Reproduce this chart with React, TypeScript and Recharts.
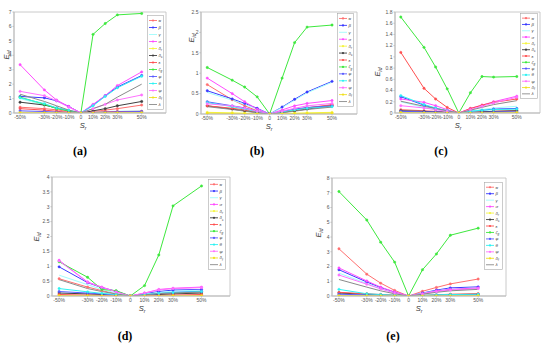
import { LineChart, Line, XAxis, YAxis, ReferenceArea, Legend } from 'recharts';

// S_r steps shared by every panel
const SR = [-50, -30, -20, -10, 0, 10, 20, 30, 50];
const X_TICKS = [-50, -30, -20, -10, 0, 10, 20, 30, 50];

// legend order: α β γ σ δr δc ε ζg φ θ ψ δf λ
const SERIES_KEYS = ['alpha', 'beta', 'gamma', 'sigma', 'deltaR', 'deltaC', 'eps', 'zeta', 'phi', 'theta', 'psi', 'deltaF', 'lambda'];
const SERIES_NAMES = ['α', 'β', 'γ', 'σ', 'δ', 'δ', 'ε', 'ζ', 'φ', 'θ', 'ψ', 'δ', 'λ'];
const SERIES_SUBS = ['', '', '', '', 'r', 'c', '', 'g', '', '', '', 'f', ''];
const SERIES_COLORS = ['#ff6f6f', '#3a3aff', '#9ffcfc', '#ff4cff', '#f5f542', '#404040', '#ff5050', '#3ee83e', '#5a5aff', '#2ef2f2', '#ff72ff', '#f0e020', '#8a8a8a'];
const SERIES_MARKERS = [true, true, false, true, true, true, true, true, true, true, true, true, false];

// (a)
const A_Y_TICKS = [0, 1, 2, 3, 4, 5, 6, 7];
const A_VALUES = [
  [0.4, 0.3, 0.22, 0.1, 0, 0.1, 0.2, 0.3, 0.55],
  [1.15, 1.05, 0.85, 0.45, 0, 0.55, 1.2, 1.8, 2.6],
  [1.0, 0.55, 0.35, 0.15, 0, 0.05, 0.1, 0.12, 0.15],
  [3.35, 1.6, 0.9, 0.45, 0, 0.6, 1.2, 1.9, 2.85],
  [0.05, 0.03, 0.02, 0.01, 0, 0.01, 0.02, 0.03, 0.05],
  [0.75, 0.55, 0.35, 0.15, 0, 0.15, 0.3, 0.5, 0.8],
  [0.3, 0.2, 0.12, 0.05, 0, 0.05, 0.08, 0.1, 0.12],
  [1.1, 0.6, 0.3, 0.15, 0, 5.45, 6.2, 6.8, 6.9],
  [0.15, 0.1, 0.06, 0.03, 0, 0.03, 0.05, 0.08, 0.1],
  [1.05, 0.65, 0.35, 0.2, 0, 0.5, 1.15, 1.75, 2.55],
  [1.5, 1.2, 0.85, 0.4, 0, 0.3, 0.6, 0.9, 1.25],
  [0.02, 0.01, 0.01, 0.0, 0, 0.0, 0.01, 0.01, 0.02],
  [1.3, 0.8, 0.5, 0.2, 0, 0.3, 0.6, 1.1, 2.0],
];

// (b)
const B_Y_TICKS = [0, 0.5, 1, 1.5, 2, 2.5];
const B_VALUES = [
  [0.72, 0.35, 0.2, 0.08, 0, 0.05, 0.1, 0.15, 0.23],
  [0.57, 0.37, 0.26, 0.14, 0, 0.17, 0.36, 0.54, 0.8],
  [0.53, 0.34, 0.24, 0.12, 0, 0.16, 0.34, 0.52, 0.78],
  [0.88, 0.5, 0.3, 0.12, 0, 0.1, 0.2, 0.26, 0.33],
  [0.04, 0.03, 0.02, 0.01, 0, 0.01, 0.02, 0.03, 0.04],
  [0.2, 0.12, 0.08, 0.04, 0, 0.04, 0.08, 0.12, 0.2],
  [0.2, 0.14, 0.1, 0.05, 0, 0.05, 0.1, 0.15, 0.22],
  [1.14, 0.83, 0.66, 0.42, 0, 0.88, 1.75, 2.13, 2.18],
  [0.3, 0.2, 0.15, 0.07, 0, 0.06, 0.12, 0.16, 0.2],
  [0.28, 0.18, 0.12, 0.06, 0, 0.05, 0.1, 0.14, 0.18],
  [0.25, 0.2, 0.14, 0.07, 0, 0.07, 0.14, 0.2, 0.26],
  [0.02, 0.01, 0.01, 0.0, 0, 0.0, 0.01, 0.01, 0.02],
  [0.18, 0.11, 0.07, 0.03, 0, 0.03, 0.07, 0.11, 0.17],
];

// (c)
const C_Y_TICKS = [0, 0.2, 0.4, 0.6, 0.8, 1, 1.2, 1.4, 1.6, 1.8];
const C_VALUES = [
  [0.06, 0.04, 0.03, 0.02, 0, 0.01, 0.02, 0.03, 0.04],
  [0.29, 0.14, 0.08, 0.04, 0, 0.03, 0.05, 0.07, 0.08],
  [0.2, 0.1, 0.06, 0.03, 0, 0.03, 0.06, 0.09, 0.12],
  [0.25, 0.19, 0.13, 0.06, 0, 0.08, 0.14, 0.2, 0.3],
  [0.01, 0.01, 0.0, 0.0, 0, 0.0, 0.0, 0.01, 0.01],
  [0.04, 0.03, 0.02, 0.01, 0, 0.01, 0.02, 0.03, 0.04],
  [1.08, 0.44, 0.25, 0.1, 0, 0.08, 0.14, 0.19, 0.25],
  [1.71, 1.17, 0.82, 0.43, 0, 0.36, 0.65, 0.64, 0.65],
  [0.03, 0.02, 0.02, 0.01, 0, 0.01, 0.01, 0.02, 0.02],
  [0.31, 0.15, 0.09, 0.04, 0, 0.03, 0.05, 0.06, 0.07],
  [0.13, 0.09, 0.06, 0.03, 0, 0.06, 0.12, 0.18, 0.28],
  [0.01, 0.0, 0.0, 0.0, 0, 0.0, 0.0, 0.0, 0.01],
  [0.21, 0.12, 0.08, 0.04, 0, 0.05, 0.1, 0.15, 0.22],
];

// (d)
const D_Y_TICKS = [0, 0.5, 1, 1.5, 2, 2.5, 3, 3.5, 4];
const D_VALUES = [
  [0.58, 0.3, 0.18, 0.08, 0, 0.04, 0.08, 0.1, 0.14],
  [0.98, 0.45, 0.28, 0.16, 0, 0.08, 0.15, 0.2, 0.22],
  [0.7, 0.38, 0.22, 0.1, 0, 0.06, 0.12, 0.16, 0.2],
  [1.2, 0.47, 0.3, 0.15, 0, 0.1, 0.22, 0.26, 0.3],
  [0.02, 0.01, 0.01, 0.0, 0, 0.0, 0.01, 0.01, 0.02],
  [0.1, 0.07, 0.05, 0.03, 0, 0.03, 0.05, 0.07, 0.1],
  [0.05, 0.03, 0.02, 0.01, 0, 0.01, 0.02, 0.03, 0.05],
  [1.15, 0.63, 0.22, 0.18, 0, 0.35, 1.38, 3.03, 3.7],
  [0.15, 0.1, 0.07, 0.03, 0, 0.04, 0.08, 0.12, 0.16],
  [0.25, 0.14, 0.09, 0.05, 0, 0.05, 0.09, 0.12, 0.15],
  [1.18, 0.46, 0.29, 0.14, 0, 0.1, 0.2, 0.25, 0.28],
  [0.01, 0.01, 0.0, 0.0, 0, 0.0, 0.0, 0.01, 0.01],
  [0.55, 0.25, 0.15, 0.07, 0, 0.04, 0.08, 0.1, 0.13],
];

// (e)
const E_Y_TICKS = [0, 1, 2, 3, 4, 5, 6, 7, 8];
const E_VALUES = [
  [3.2, 1.48, 0.87, 0.38, 0, 0.32, 0.58, 0.82, 1.15],
  [1.78, 0.95, 0.57, 0.25, 0, 0.2, 0.4, 0.55, 0.62],
  [1.55, 0.85, 0.5, 0.22, 0, 0.18, 0.35, 0.48, 0.55],
  [1.9, 1.02, 0.6, 0.28, 0, 0.15, 0.35, 0.45, 0.55],
  [0.05, 0.03, 0.02, 0.01, 0, 0.01, 0.02, 0.03, 0.05],
  [0.2, 0.12, 0.08, 0.04, 0, 0.03, 0.06, 0.09, 0.12],
  [0.25, 0.15, 0.1, 0.05, 0, 0.04, 0.08, 0.12, 0.16],
  [7.08, 5.15, 3.65, 2.3, 0, 1.78, 2.85, 4.12, 4.6],
  [0.12, 0.07, 0.05, 0.02, 0, 0.02, 0.04, 0.06, 0.08],
  [0.45, 0.15, 0.1, 0.05, 0, 0.04, 0.08, 0.1, 0.12],
  [1.42, 0.8, 0.48, 0.2, 0, 0.14, 0.3, 0.4, 0.5],
  [0.02, 0.01, 0.01, 0.0, 0, 0.0, 0.01, 0.01, 0.02],
  [1.12, 0.6, 0.35, 0.15, 0, 0.12, 0.25, 0.35, 0.45],
];

const X_DOMAIN = [-55, 70];
const AXIS_COLOR = '#bdbdbd';
const TICK_COLOR = '#555';
const SANS = '"Liberation Sans", Arial, sans-serif';

function buildRows(values: number[][]) {
  return SR.map((s, i) => {
    const row: Record<string, number> = { s };
    SERIES_KEYS.forEach((k, j) => {
      row[k] = values[j][i];
    });
    return row;
  });
}

const fmtX = (v: number) => (v === 0 ? '0' : `${v}%`);

function LegendBox({ w, h }: { w: number; h: number }) {
  const step = (h - 4) / SERIES_KEYS.length;
  return (
    <svg width={w} height={h} style={{ display: 'block' }}>
      <rect x={0.5} y={0.5} width={w - 1} height={h - 1} fill="#fff" stroke="#a8a8a8" strokeWidth={0.6} />
      {SERIES_KEYS.map((k, i) => {
        const cy = 2 + step * (i + 0.5);
        return (
          <g key={k}>
            <line x1={2} x2={10} y1={cy} y2={cy} stroke={SERIES_COLORS[i]} strokeWidth={0.9} />
            {SERIES_MARKERS[i] && <circle cx={6} cy={cy} r={1.1} fill={SERIES_COLORS[i]} />}
            <text x={11.5} y={cy + 1.5} fontSize={4.4} fill="#444" fontFamily={SANS} fontStyle="italic">
              {SERIES_NAMES[i]}
              {SERIES_SUBS[i] && (
                <tspan dy={1.2} fontSize={3}>
                  {SERIES_SUBS[i]}
                </tspan>
              )}
            </text>
          </g>
        );
      })}
    </svg>
  );
}

interface Box {
  x: number;
  y: number;
  w: number;
  h: number;
}

interface PanelProps {
  plot: Box;
  legend: Box;
  values: number[][];
  yTicks: number[];
  yLabel: [number, number];
  xLabel: [number, number];
  caption: string;
  capPos: [number, number];
}

function Panel({ plot, legend, values, yTicks, yLabel, xLabel, caption, capPos }: PanelProps) {
  const data = buildRows(values);
  const yMax = yTicks[yTicks.length - 1];
  const left = plot.x - 24;
  const top = plot.y - 4;
  return (
    <>
      <div style={{ position: 'absolute', left, top }}>
        <LineChart
          width={plot.w + 28}
          height={plot.h + 26}
          data={data}
          margin={{ top: 4, right: 4, left: 0, bottom: 10 }}
        >
          <XAxis
            dataKey="s"
            type="number"
            domain={X_DOMAIN}
            ticks={X_TICKS}
            tickFormatter={fmtX}
            allowDataOverflow
            height={12}
            interval={0}
            stroke={AXIS_COLOR}
            tickSize={1.5}
            tickMargin={0.5}
            tick={{ fontSize: 5, fill: TICK_COLOR, fontFamily: SANS }}
          />
          <YAxis
            type="number"
            domain={[0, yMax]}
            ticks={yTicks}
            allowDataOverflow
            width={24}
            interval={0}
            stroke={AXIS_COLOR}
            tickSize={1.5}
            tickMargin={1}
            tick={{ fontSize: 5, fill: TICK_COLOR, fontFamily: SANS }}
          />
          <ReferenceArea
            x1={X_DOMAIN[0]}
            x2={X_DOMAIN[1]}
            y1={0}
            y2={yMax}
            fill="none"
            stroke={AXIS_COLOR}
            strokeWidth={0.8}
          />
          {SERIES_KEYS.map((k, i) => (
            <Line
              key={k}
              dataKey={k}
              type="linear"
              stroke={SERIES_COLORS[i]}
              strokeWidth={1}
              dot={SERIES_MARKERS[i] ? { r: 1.2, fill: SERIES_COLORS[i], stroke: SERIES_COLORS[i], strokeWidth: 0.4 } : false}
              activeDot={false}
              isAnimationActive={false}
            />
          ))}
          <Legend
            layout="vertical"
            align="center"
            verticalAlign="middle"
            wrapperStyle={{ left: legend.x - left, top: legend.y - top, width: legend.w, height: legend.h }}
            content={() => <LegendBox w={legend.w} h={legend.h} />}
          />
        </LineChart>
      </div>
      <div
        style={{
          position: 'absolute',
          left: yLabel[0],
          top: yLabel[1],
          transform: 'translate(-50%, -50%) rotate(-90deg)',
          fontFamily: SANS,
          fontStyle: 'italic',
          fontSize: 7.5,
          color: '#333',
          whiteSpace: 'nowrap',
        }}
      >
        E<sub style={{ fontSize: 5 }}>id</sub>
      </div>
      <div
        style={{
          position: 'absolute',
          left: xLabel[0],
          top: xLabel[1],
          transform: 'translate(-50%, -50%)',
          fontFamily: SANS,
          fontStyle: 'italic',
          fontSize: 7.5,
          color: '#333',
          whiteSpace: 'nowrap',
        }}
      >
        S<sub style={{ fontSize: 5 }}>r</sub>
      </div>
      <div
        style={{
          position: 'absolute',
          left: capPos[0],
          top: capPos[1],
          transform: 'translate(-50%, -50%)',
          fontFamily: '"Liberation Serif", "Times New Roman", serif',
          fontWeight: 'bold',
          fontSize: 12,
          color: '#000',
        }}
      >
        {caption}
      </div>
    </>
  );
}

export default function App() {
  return (
    <div style={{ position: 'absolute', left: 0, top: 0, width: 550, height: 348, background: '#fff', overflow: 'hidden' }}>
      <Panel
        plot={{ x: 14, y: 12, w: 152, h: 101 }}
        legend={{ x: 147, y: 15, w: 17, h: 95 }}
        values={A_VALUES}
        yTicks={A_Y_TICKS}
        yLabel={[7, 55]}
        xLabel={[83, 126]}
        caption="(a)"
        capPos={[80, 151]}
      />
      <Panel
        plot={{ x: 201, y: 12, w: 156, h: 102 }}
        legend={{ x: 337, y: 13, w: 17, h: 94 }}
        values={B_VALUES}
        yTicks={B_Y_TICKS}
        yLabel={[192, 38]}
        xLabel={[269, 127]}
        caption="(b)"
        capPos={[257, 151]}
      />
      <Panel
        plot={{ x: 395, y: 12, w: 145, h: 101 }}
        legend={{ x: 520, y: 13, w: 18, h: 86 }}
        values={C_VALUES}
        yTicks={C_Y_TICKS}
        yLabel={[378, 72]}
        xLabel={[458, 126]}
        caption="(c)"
        capPos={[441, 151]}
      />
      <Panel
        plot={{ x: 52, y: 177, w: 178, h: 119 }}
        legend={{ x: 208, y: 179, w: 18, h: 91 }}
        values={D_VALUES}
        yTicks={D_Y_TICKS}
        yLabel={[37, 237]}
        xLabel={[142, 309]}
        caption="(d)"
        capPos={[125, 336]}
      />
      <Panel
        plot={{ x: 332, y: 178, w: 174, h: 118 }}
        legend={{ x: 484, y: 182, w: 19, h: 88 }}
        values={E_VALUES}
        yTicks={E_Y_TICKS}
        yLabel={[319, 233]}
        xLabel={[419, 309]}
        caption="(e)"
        capPos={[393, 336]}
      />
    </div>
  );
}
